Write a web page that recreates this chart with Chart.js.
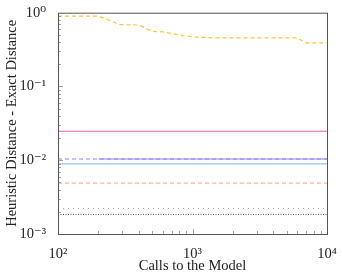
<!DOCTYPE html>
<html>
<head>
<meta charset="utf-8">
<script src="https://cdn.jsdelivr.net/npm/chart.js@4.4.1/dist/chart.umd.min.js"></script>
<style>
  html, body { margin: 0; padding: 0; background: #fff; }
  #wrap { width: 342px; height: 275px; }
</style>
</head>
<body>
<div id="wrap"><canvas id="chart"></canvas></div>
<script>
// =======================
// DADOS
// =======================
const xTicks = [100, 1000, 10000];
const yTicks = [0.001, 0.01, 0.1, 1];
const supers = { '0': '⁰', '1': '¹', '2': '²', '3': '³', '4': '⁴', '-': '⁻' };

// curva amarela (tracejada)
const yellowX = [100, 200, 290, 400, 500, 600, 850, 1000, 1500, 6000, 7000, 10000];
const yellowY = [0.90, 0.90, 0.69, 0.68, 0.56, 0.55, 0.49, 0.47, 0.455, 0.455, 0.39, 0.39];

// linhas horizontais
const pinkX = [100, 10000];
const pinkY = [0.0247, 0.0247];
const purpleDashX = [100, 10000];
const purpleDashY = [0.0104, 0.0104];
const purpleX = [200, 10000];
const purpleY = [0.0104, 0.0104];
const lightBlueX = [100, 10000];
const lightBlueY = [0.0089, 0.0089];
const orangeX = [100, 10000];
const orangeY = [0.0049, 0.0049];
const grayX = [100, 10000];
const grayY = [0.00221, 0.00221];
const darkGrayX = [100, 10000];
const darkGrayY = [0.00184, 0.00184];

const pts = (xs, ys) => xs.map((x, i) => ({ x, y: ys[i] }));
const sup = v => '10' + String(Math.round(Math.log10(v))).split('').map(c => supers[c]).join('');

const serif = "'Liberation Serif', 'DejaVu Serif', serif";

// =======================
// PLUGIN: moldura + ticks menores
// =======================
const frame = {
  id: 'frame',
  afterDatasetsDraw(chart) {
    const { ctx, chartArea: a, scales } = chart;
    ctx.save();
    ctx.strokeStyle = '#8a8a8a';
    ctx.lineWidth = 0.8;
    // ticks no eixo y
    for (let e = -3; e < 0; e++) {
      for (let m = 1; m <= 9; m++) {
        const v = m * Math.pow(10, e);
        const py = Math.round(scales.y.getPixelForValue(v)) + 0.5;
        const len = m === 1 ? 5 : 3;
        ctx.beginPath(); ctx.moveTo(a.left, py); ctx.lineTo(a.left + len, py); ctx.stroke();
      }
    }
    // ticks no eixo x
    for (let e = 2; e < 4; e++) {
      for (let m = 1; m <= 9; m++) {
        const v = m * Math.pow(10, e);
        const px = Math.round(scales.x.getPixelForValue(v)) + 0.5;
        const len = m === 1 ? 5 : 3;
        ctx.beginPath(); ctx.moveTo(px, a.bottom); ctx.lineTo(px, a.bottom - len); ctx.stroke();
      }
    }
    ctx.strokeStyle = '#555';
    ctx.lineWidth = 1;
    ctx.strokeRect(a.left + 0.5, a.top + 0.5, a.right - a.left, a.bottom - a.top);
    ctx.restore();
  }
};

// =======================
// GRÁFICO
// =======================
const line = (data, color, dash, width) => ({
  data, borderColor: color, borderDash: dash, borderWidth: width || 1.2,
  pointRadius: 0, fill: false, tension: 0
});

new Chart(document.getElementById('chart'), {
  type: 'line',
  data: {
    datasets: [
      line(pts(yellowX, yellowY), '#ffc23a', [4, 3]),
      line(pts(pinkX, pinkY), '#f060a8', []),
      line(pts(purpleDashX, purpleDashY), '#8a86f2', [4, 3]),
      line(pts(purpleX, purpleY), '#8a86f2', []),
      line(pts(lightBlueX, lightBlueY), '#9ac0ff', []),
      line(pts(orangeX, orangeY), '#ffb48a', [4, 3]),
      line(pts(grayX, grayY), '#9a9a9a', [1, 4], 1),
      line(pts(darkGrayX, darkGrayY), '#555', [1, 1.5], 1)
    ]
  },
  options: {
    responsive: true,
    maintainAspectRatio: false,
    animation: false,
    layout: { padding: { top: 10, right: 15, left: 0, bottom: 0 } },
    plugins: { legend: { display: false }, tooltip: { enabled: false } },
    scales: {
      x: {
        type: 'logarithmic', min: 100, max: 10000,
        afterBuildTicks: s => { s.ticks = xTicks.map(v => ({ value: v })); },
        afterFit: s => { s.height = 41; },
        grid: { display: false },
        border: { display: false },
        ticks: { color: '#222', font: { family: serif, size: 14.5 }, padding: 3, maxRotation: 0, autoSkip: false, callback: v => sup(v) },
        title: { display: true, text: 'Calls to the Model', color: '#222', font: { family: serif, size: 14.5 }, padding: { top: 0, bottom: 0 } }
      },
      y: {
        type: 'logarithmic', min: 0.001, max: 1,
        afterBuildTicks: s => { s.ticks = yTicks.map(v => ({ value: v })); },
        afterFit: s => { s.width = 58; },
        grid: { display: false },
        border: { display: false },
        ticks: { color: '#222', font: { family: serif, size: 14.5 }, padding: 4, autoSkip: false, callback: v => sup(v) },
        title: { display: true, text: 'Heuristic Distance - Exact Distance', color: '#222', font: { family: serif, size: 14.5 }, padding: { top: 3, bottom: 0 } }
      }
    }
  },
  plugins: [frame]
});
</script>
</body>
</html>
